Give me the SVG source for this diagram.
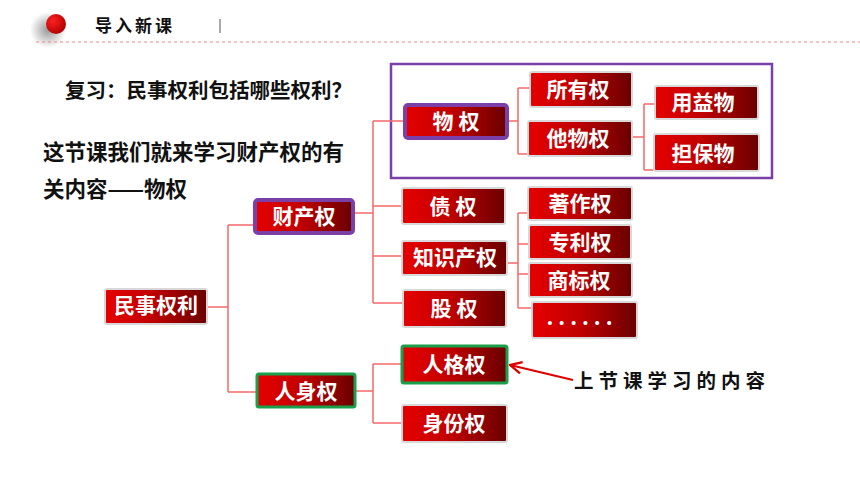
<svg xmlns="http://www.w3.org/2000/svg" width="860" height="484" viewBox="0 0 860 484">
<defs>
<linearGradient id="red" x1="0" y1="0" x2="1" y2="0">
<stop offset="0" stop-color="#e60000"/>
<stop offset="0.45" stop-color="#c20000"/>
<stop offset="1" stop-color="#6a0000"/>
</linearGradient>
<radialGradient id="ball" cx="0.35" cy="0.35" r="0.7">
<stop offset="0" stop-color="#ff2020"/>
<stop offset="1" stop-color="#b00000"/>
</radialGradient>
<radialGradient id="shade" cx="0.5" cy="0.5" r="0.5">
<stop offset="0" stop-color="#999"/>
<stop offset="1" stop-color="#999" stop-opacity="0"/>
</radialGradient>
<marker id="arrh" viewBox="0 0 12 12" refX="11" refY="6" markerWidth="14" markerHeight="14" orient="auto" markerUnits="userSpaceOnUse">
<path d="M1,1 L11,6 L1,11" stroke="#e00000" stroke-width="2" fill="none"/>
</marker>
</defs>
<style>
.box{fill:url(#red);stroke:#d8d8d8;stroke-width:2}
.pb{fill:url(#red);stroke:#7b3fa8;stroke-width:4}
.gb{fill:url(#red);stroke:#1aa04a;stroke-width:3}
.bt{font-family:"Noto Sans CJK SC","Noto Sans",sans-serif;font-weight:bold;font-size:21px;fill:#fff;text-anchor:middle}
.tx{font-family:"Noto Sans CJK SC","Noto Sans",sans-serif;font-weight:bold;fill:#111}
.ln{stroke:#f36a6a;stroke-width:1.5;fill:none}
</style>
<rect width="860" height="484" fill="#fff"/>
<g id="header">
<rect x="30" y="12" width="36" height="36" fill="url(#shade)"/>
<circle cx="56" cy="24" r="10" fill="url(#ball)"/>
<text x="95" y="32" class="tx" font-size="17" letter-spacing="3">导入新课</text>
<rect x="219" y="19" width="2" height="14" fill="#aaa"/>
<line x1="36" y1="42" x2="860" y2="42" stroke="#f08a8a" stroke-width="1.2" stroke-dasharray="3,3"/>
</g>
<g id="texts">
<text x="65" y="98" class="tx" font-size="20.5">复习：民事权利包括哪些权利？</text>
<text x="43" y="160" class="tx" font-size="21.5">这节课我们就来学习财产权的有</text>
<text x="43" y="197" class="tx" font-size="21.5">关内容——物权</text>
<text x="574" y="388" class="tx" font-size="19.5" letter-spacing="5">上节课学习的内容</text>
</g>
<rect id="wuquan-frame" x="391" y="64" width="381" height="114" fill="none" stroke="#7b3fa8" stroke-width="2.5"/>
<g id="connectors">
<path class="ln" d="M207,307 H228 M228,225 V392 M228,225 H255 M228,392 H257"/>
<path class="ln" d="M353,213 H373 M373,121 V303 M373,121 H404 M373,206 H402 M373,256 H402 M373,303 H403"/>
<path class="ln" d="M355,391 H373 M373,364 V423 M373,364 H402 M373,423 H402"/>
<path class="ln" d="M507,121 H518 M518,88 V154 M518,88 H530 M518,154 H528"/>
<path class="ln" d="M632,137 H644 M644,104 V170 M644,104 H655 M644,170 H654"/>
<path class="ln" d="M507,263 H518 M518,213 V308 M518,213 H528 M518,244 H529 M518,274 H529 M518,308 H532"/>
<line x1="573" y1="380" x2="510" y2="365" stroke="#e00000" stroke-width="2" marker-end="url(#arrh)"/>
</g>
<g id="n-minshi"><rect class="box" x="105" y="289" width="102" height="35" rx="2"/><text class="bt" x="156" y="313" font-size="17.5">民事权利</text></g>
<g id="n-caichan"><rect class="pb" x="255" y="200" width="98" height="33" rx="3"/><text class="bt" x="304" y="224">财产权</text></g>
<g id="n-renshen"><rect class="gb" x="257" y="374" width="98" height="33" rx="2"/><text class="bt" x="306" y="399">人身权</text></g>
<g id="n-wuquan"><rect class="pb" x="405" y="105" width="102" height="33" rx="3"/><text class="bt" x="456" y="129" xml:space="preserve">物 权</text></g>
<g id="n-zhai"><rect class="box" x="402" y="188" width="103" height="36" rx="2"/><text class="bt" x="453" y="214" xml:space="preserve">债 权</text></g>
<g id="n-zhishi"><rect class="box" x="402" y="241" width="105" height="34" rx="2"/><text class="bt" x="455" y="265">知识产权</text></g>
<g id="n-gu"><rect class="box" x="403" y="290" width="103" height="37" rx="2"/><text class="bt" x="454" y="316" xml:space="preserve">股 权</text></g>
<g id="n-renge"><rect class="gb" x="402" y="346" width="105" height="37" rx="2"/><text class="bt" x="454" y="372">人格权</text></g>
<g id="n-shenfen"><rect class="box" x="402" y="405" width="105" height="37" rx="2"/><text class="bt" x="454" y="431">身份权</text></g>
<g id="n-suoyou"><rect class="box" x="530" y="72" width="102" height="35" rx="2"/><text class="bt" x="578" y="97">所有权</text></g>
<g id="n-tawu"><rect class="box" x="528" y="121" width="104" height="35" rx="2"/><text class="bt" x="578" y="146">他物权</text></g>
<g id="n-yongyi"><rect class="box" x="655" y="86" width="103" height="33" rx="2"/><text class="bt" x="703" y="110">用益物</text></g>
<g id="n-danbao"><rect class="box" x="654" y="134" width="105" height="37" rx="2"/><text class="bt" x="703" y="161">担保物</text></g>
<g id="n-zhuzuo"><rect class="box" x="528" y="187" width="104" height="33" rx="2"/><text class="bt" x="580" y="211">著作权</text></g>
<g id="n-zhuanli"><rect class="box" x="529" y="225" width="102" height="34" rx="2"/><text class="bt" x="580" y="250">专利权</text></g>
<g id="n-shangbiao"><rect class="box" x="529" y="263" width="103" height="34" rx="2"/><text class="bt" x="579" y="288">商标权</text></g>
<g id="n-more"><rect class="box" x="532" y="302" width="105" height="36" rx="2"/><text class="bt" x="582" y="325" font-size="15" letter-spacing="5">......</text></g>
</svg>
